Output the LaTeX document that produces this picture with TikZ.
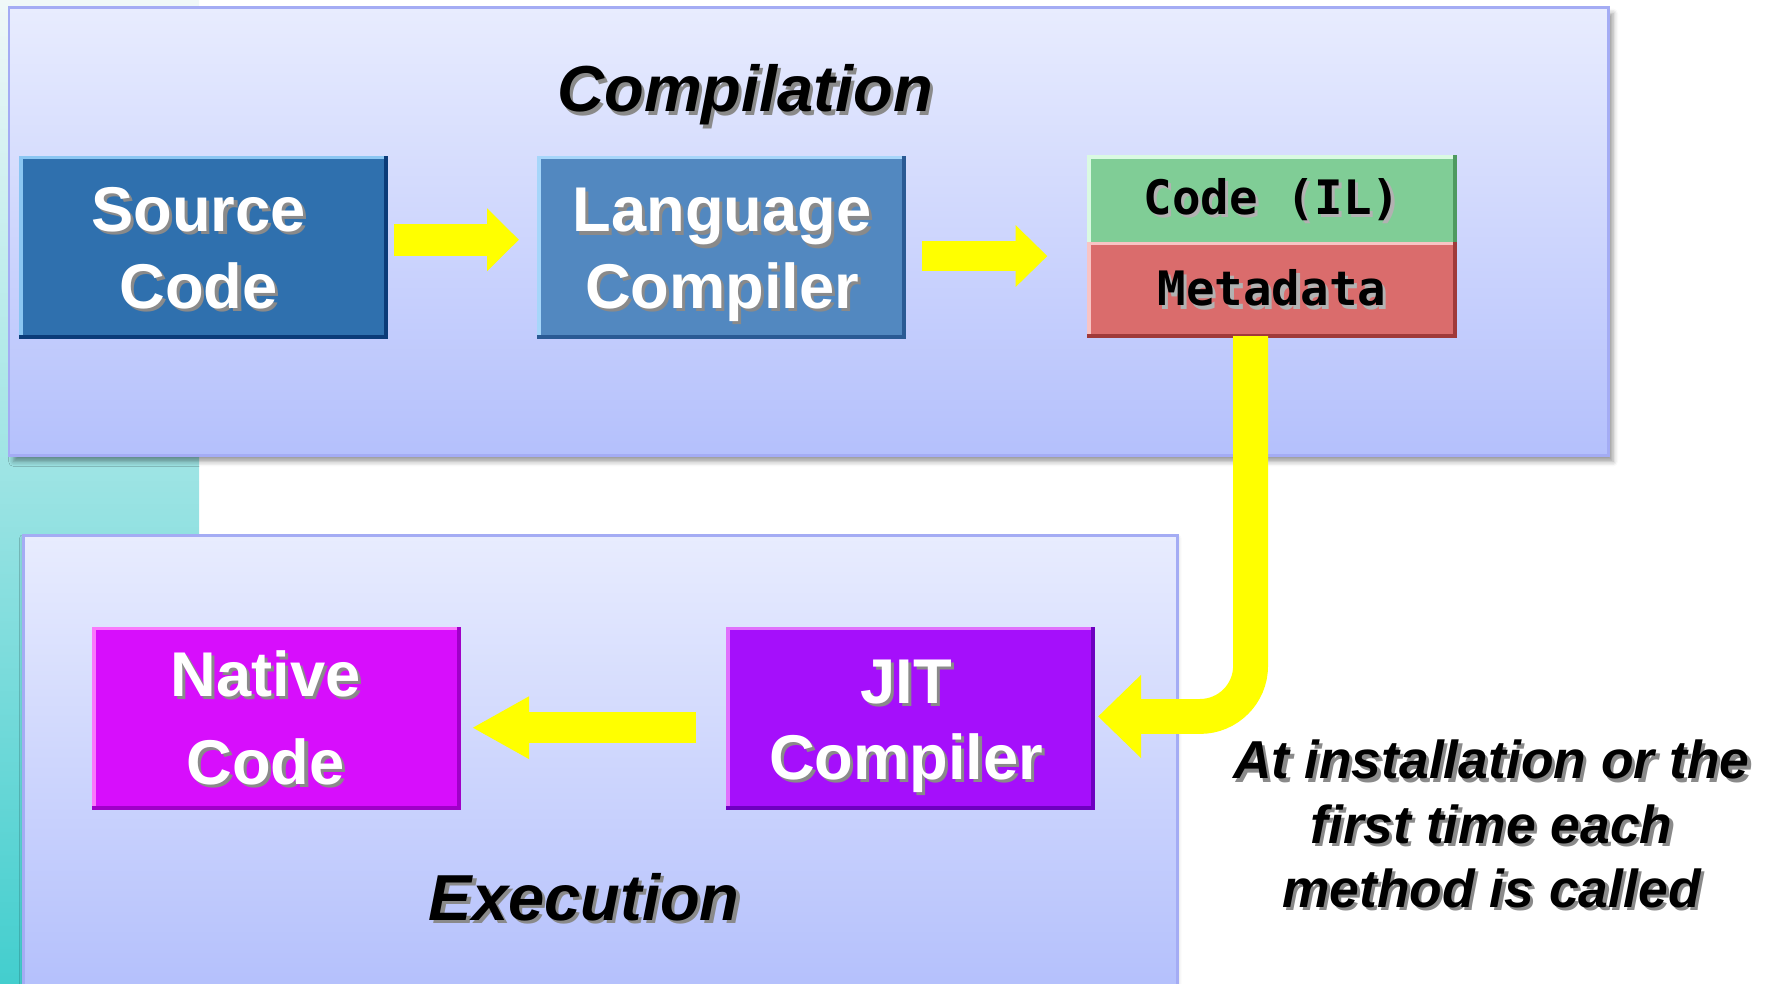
\documentclass[tikz,border=0pt]{standalone}
\usepackage{fontspec}
\setmainfont{Liberation Sans}
\newfontfamily\codefont{DejaVu Sans Mono}
\usetikzlibrary{arrows.meta,calc,shadows.blur}

% one drawing unit
\def\spx{0.32029pt}

\definecolor{tealtop}{HTML}{F0F8F8}
\definecolor{tealmid}{HTML}{A9E1E0}
\definecolor{tealbot}{HTML}{43CECE}
\definecolor{paneltop}{HTML}{E8ECFE}
\definecolor{panelbot}{HTML}{B4C0FC}
\definecolor{panelline}{HTML}{A4ACF4}
\definecolor{flowyellow}{HTML}{FFFF00}
\definecolor{srcfill}{HTML}{2F70AE}
\definecolor{srclight}{HTML}{8AC6F2}
\definecolor{srcdark}{HTML}{0B3B78}
\definecolor{langfill}{HTML}{5288C0}
\definecolor{langlight}{HTML}{A6D6FA}
\definecolor{langdark}{HTML}{2A5A94}
\definecolor{ilfill}{HTML}{80CD96}
\definecolor{illight}{HTML}{DAFAE2}
\definecolor{ildark}{HTML}{4E9A60}
\definecolor{metafill}{HTML}{DA6C6C}
\definecolor{metalight}{HTML}{F8C4C4}
\definecolor{metadark}{HTML}{A03A3A}
\definecolor{nativefill}{HTML}{D70EFC}
\definecolor{nativelight}{HTML}{FA78FC}
\definecolor{nativedark}{HTML}{A000C8}
\definecolor{jitfill}{HTML}{A50FFB}
\definecolor{jitlight}{HTML}{E070FC}
\definecolor{jitdark}{HTML}{6E00C0}
\definecolor{txtshadow}{HTML}{8A8A8A}

% text with a soft offset shadow behind it
\newcommand\shd[2][txtshadow]{\leavevmode\rlap{\kern0.9pt\raisebox{-0.9pt}{\textcolor{#1}{#2}}}#2}

% light top/left and dark bottom/right edges of a box
\newcommand\bevel[3]{%
  \draw[line width=1.1pt, #2, line cap=rect] (#1.south west) -- (#1.north west) -- (#1.north east);
  \draw[line width=1.1pt, #3, line cap=rect] (#1.north east) -- (#1.south east) -- (#1.south west);}

\begin{document}
\begin{tikzpicture}[x=0.32029pt, y=-0.32029pt,
  panel/.style={rectangle, inner sep=0pt, draw=panelline, line width=0.8pt,
    top color=paneltop, bottom color=panelbot},
  stagebox/.style={rectangle, inner sep=0pt, minimum width=323*\spx,
    minimum height=158*\spx},
  stagelabel/.style={inner sep=0pt, text=white, align=center,
    font=\fontsize{18}{21.8}\selectfont\bfseries},
  codebox/.style={rectangle, inner sep=0pt, minimum width=324*\spx,
    text=black, font=\fontsize{13.5}{16}\selectfont\codefont\bfseries},
  heading/.style={inner sep=0pt, anchor=base, text=black,
    font=\fontsize{18.5}{22}\selectfont\bfseries\itshape},
  note/.style={inner sep=0pt, align=center, text=black,
    font=\fontsize{15.2}{18.3}\selectfont\bfseries\itshape},
  flow/.style={draw=flowyellow, line cap=butt, line join=miter}]

\useasboundingbox (0,0) rectangle (1568,874);

% background strip
\fill[top color=tealtop, middle color=tealmid, bottom color=tealbot] (0,0) rectangle (177,874);

% stage panels
\node[panel, minimum width=1421*\spx, minimum height=398*\spx,
  blur shadow={shadow xshift=1.3pt, shadow yshift=-1.6pt, shadow blur radius=1.4pt,
  shadow blur extra rounding=0pt, shadow opacity=40}] (comp) at (718.5,206) {};
\node[panel, minimum width=1025*\spx, minimum height=402*\spx,
  blur shadow={shadow xshift=0pt, shadow yshift=-0.8pt, shadow blur radius=1.2pt,
  shadow blur extra rounding=0pt, shadow opacity=30}] (exec) at (533.5,677) {};

\node[heading] (comptitle) at (662,99.5) {\shd{Compilation}};
\node[heading] (exectitle) at (519,818) {\shd{Execution}};

% compilation stage
\node[stagebox, fill=srcfill] (src) at (181,219.5) {};
\bevel{src}{srclight}{srcdark}
\node[stagelabel] (srctxt) at (176.5,222) {\shd{Source}\\\shd{Code}};
\node[stagebox, fill=langfill] (lang) at (641,219.5) {};
\bevel{lang}{langlight}{langdark}
\node[stagelabel] (langtxt) at (641.5,228) {\shd{Language}\\\shd{Compiler}};
\node[codebox, fill=ilfill, minimum height=77*\spx] (il) at (1130,178.5) {\shd[gray!60]{Code (IL)}};
\bevel{il}{illight}{ildark}
\node[codebox, fill=metafill, minimum height=81*\spx] (meta) at (1130,257.5) {\shd[gray!60]{Metadata}};
\bevel{meta}{metalight}{metadark}

% execution stage
\node[stagebox, fill=nativefill] (native) at (246,638) {};
\bevel{native}{nativelight}{nativedark}
\node[stagelabel, font=\fontsize{18}{25}\selectfont\bfseries] (nativetxt) at (236,639) {\shd{Native}\\\shd{Code}};
\node[stagebox, fill=jitfill] (jit) at (808.5,638) {};
\bevel{jit}{jitlight}{jitdark}
\node[stagelabel] (jittxt) at (805,646.5) {\shd{JIT}\\\shd{Compiler}};

% flow arrows
\draw[flow, line width=9.13pt, -{Triangle[width=17.9pt,length=9pt,line width=0pt]}]
  ($(src.east)+(7,-6.5)$) -- ($(lang.west)+(-18,-6.5)$);
\draw[flow, line width=8.65pt, -{Triangle[width=17.6pt,length=9pt,line width=0pt]}]
  ($(lang.east)+(16,8)$) -- ($(lang.east -| il.west)+(-37,8)$);
\draw[flow, line width=9.93pt, rounded corners=14.4pt, -{Triangle[width=23.7pt,length=12.2pt,line width=0pt]}]
  ($(meta.south)+(-19,0)$) |- ($(jit.east)+(5,-1.5)$);
\draw[flow, line width=8.8pt, -{Triangle[width=17.9pt,length=16pt,line width=0pt]}]
  ($(jit.west)+(-28,8.5)$) -- ($(native.east)+(12,8.5)$);

\node[note] (when) at (1325,733.5) {\shd{At installation or the}\\\shd{first time each}\\\shd{method is called}};

\end{tikzpicture}
\end{document}
